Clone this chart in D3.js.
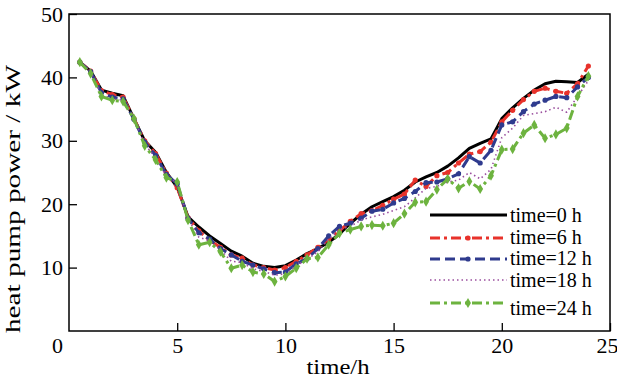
<!DOCTYPE html>
<html><head><meta charset="utf-8">
<script src="https://cdn.jsdelivr.net/npm/d3@7"></script>
<style>
body{margin:0;background:#fff;}
svg{display:block;font-family:"Liberation Serif","Times New Roman",serif;}
</style></head>
<body><svg id="c" width="617" height="379"></svg>
<script>
const times = [0.5,1,1.5,2,2.5,3,3.5,4,4.5,5,5.5,6,6.5,7,7.5,8,8.5,9,9.5,10,10.5,11,11.5,12,12.5,13,13.5,14,14.5,15,15.5,16,16.5,17,17.5,18,18.5,19,19.5,20,20.5,21,21.5,22,22.5,23,23.5,24];
const p0h  = [42.4,41.0,38.0,37.5,37.1,33.5,30.0,28.2,25.0,22.7,18.0,16.4,15.0,13.8,12.6,11.8,10.7,10.2,10.0,10.3,11.2,12.2,13.0,14.0,15.3,17.0,18.4,19.6,20.4,21.2,22.2,23.5,24.3,25.0,26.0,27.3,28.8,29.6,30.3,33.5,35.2,36.7,38.0,39.0,39.4,39.3,39.2,40.5];
const p6h  = [42.4,41.0,37.9,37.3,36.9,33.5,30.0,28.0,24.9,22.6,17.9,15.8,14.3,13.2,12.0,11.5,10.4,10.0,9.6,10.0,11.0,12.0,13.2,14.5,15.8,17.3,18.5,19.0,19.8,20.8,21.6,23.8,22.8,24.5,25.0,26.5,27.9,28.3,29.8,33.0,34.8,36.5,37.8,38.3,37.8,37.5,39.0,41.8];
const p12h = [42.4,40.9,37.6,36.9,36.6,33.4,29.8,27.7,24.7,23.2,17.8,15.5,14.5,13.0,12.0,11.0,10.4,9.8,9.2,9.3,10.6,11.4,13.0,15.0,16.5,17.0,17.8,18.9,19.2,20.2,20.9,22.0,23.4,23.5,24.0,24.8,27.5,26.5,28.5,32.5,33.0,34.6,35.8,36.4,37.0,36.8,38.5,40.0];
const p18h = [42.4,40.8,37.3,36.6,36.4,33.4,29.5,27.3,24.4,23.4,17.7,14.8,14.2,12.8,11.0,10.8,9.8,9.4,8.8,9.0,10.3,11.3,12.5,14.5,16.0,16.5,17.5,18.0,18.4,19.0,19.6,21.0,22.5,22.8,23.5,23.8,25.0,24.0,25.5,30.5,32.0,34.0,34.3,34.6,35.3,34.5,37.0,39.5];
const p24h = [42.4,40.6,37.0,36.4,36.2,33.5,29.2,27.0,24.2,23.5,17.5,13.6,14.0,12.5,9.9,10.4,9.3,9.0,7.8,8.6,9.9,11.4,11.6,13.6,15.4,16.0,16.5,16.7,16.6,17.0,18.5,20.3,20.4,22.3,24.0,22.5,23.6,22.4,24.5,28.6,28.7,31.2,32.5,30.4,31.0,32.0,37.0,40.2];
const seriesNames = ["time=0 h","time=6 h","time=12 h","time=18 h","time=24 h"];
const xTicks = [0,5,10,15,20,25];
const yTicks = [10,20,30,40,50];

const styles = [
  {color:"#000000", width:3, dash:null, marker:null},
  {color:"#e8322b", width:3, dash:"10,4,3,4", marker:"circle"},
  {color:"#2f3b8e", width:3, dash:"10,5", marker:"circle"},
  {color:"#9a4f9e", width:1.6, dash:"1.5,3", marker:null},
  {color:"#6db33f", width:3, dash:"10,4,3,4", marker:"diamond"}
];
const values = [p0h,p6h,p12h,p18h,p24h];

const svg = d3.select("#c");
const x = d3.scaleLinear().domain([0,25]).range([69,610]);
const y = d3.scaleLinear().domain([0,50]).range([331,14]);

svg.append("rect").attr("x",69).attr("y",14).attr("width",541).attr("height",317)
  .attr("fill","none").attr("stroke","#000").attr("stroke-width",1.5);

const gx = svg.append("g").attr("transform","translate(0,331)")
  .call(d3.axisBottom(x).tickValues(xTicks).tickSize(-8).tickPadding(6).tickFormat(d3.format("d")));
const gy = svg.append("g").attr("transform","translate(69,0)")
  .call(d3.axisLeft(y).tickValues(yTicks).tickSize(-8).tickPadding(6).tickFormat(d3.format("d")));
[gx,gy].forEach(g=>{
  g.select(".domain").remove();
  g.selectAll(".tick line").attr("stroke","#000").attr("stroke-width",1.3);
  g.selectAll(".tick text").attr("font-family","Liberation Serif").attr("font-size",22).attr("fill","#000");
});
gx.selectAll(".tick").filter(d=>d===0).select("text").attr("dx",-12);
gx.selectAll(".tick").filter(d=>d===0).select("line").remove();
gx.selectAll(".tick").filter(d=>d===25).select("text").attr("dx",-3);

const line = d3.line().x((d,i)=>x(times[i])).y(d=>y(d));
values.forEach((vals,k)=>{
  const s = styles[k];
  const g = svg.append("g");
  g.append("path").datum(vals).attr("d",line).attr("fill","none")
    .attr("stroke",s.color).attr("stroke-width",s.width)
    .attr("stroke-dasharray",s.dash).attr("stroke-linejoin","round");
  if(s.marker==="circle"){
    g.selectAll("circle").data(vals).join("circle")
      .attr("cx",(d,i)=>x(times[i])).attr("cy",d=>y(d)).attr("r",2.6).attr("fill",s.color);
  } else if(s.marker==="diamond"){
    g.selectAll("path.m").data(vals).join("path").attr("class","m")
      .attr("d",d3.symbol(d3.symbolDiamond,30))
      .attr("transform",(d,i)=>`translate(${x(times[i])},${y(d)})`).attr("fill",s.color);
  }
});

const legY = [215,238,259,280,303];
const legTextY = [222,244,265,287,315];
seriesNames.forEach((name,k)=>{
  const s = styles[k];
  svg.append("line").attr("x1",430).attr("x2",507).attr("y1",legY[k]).attr("y2",legY[k])
    .attr("stroke",s.color).attr("stroke-width",s.width).attr("stroke-dasharray",s.dash);
  if(s.marker==="circle"){
    svg.append("circle").attr("cx",468).attr("cy",legY[k]).attr("r",2.6).attr("fill",s.color);
  } else if(s.marker==="diamond"){
    svg.append("path").attr("d",d3.symbol(d3.symbolDiamond,30)).attr("transform",`translate(468,${legY[k]})`).attr("fill",s.color);
  }
  svg.append("text").attr("x",510).attr("y",legTextY[k]).attr("font-size",20).attr("fill","#000").text(name);
});

svg.append("text").attr("x",338).attr("y",374).attr("text-anchor","middle")
  .attr("font-size",22).attr("textLength",63).attr("lengthAdjust","spacingAndGlyphs").text("time/h");
svg.append("text").attr("transform","translate(20,199) rotate(-90)").attr("text-anchor","middle")
  .attr("font-size",22).attr("textLength",268).attr("lengthAdjust","spacingAndGlyphs").text("heat pump power / kW");
</script></body></html>
